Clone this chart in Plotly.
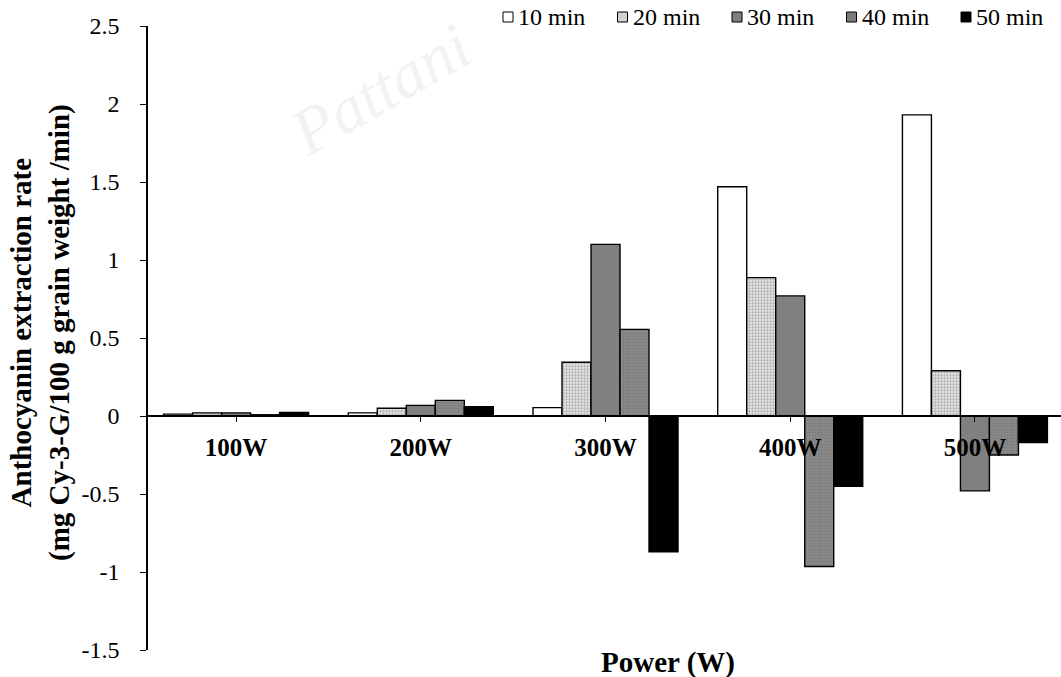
import plotly.graph_objects as go

# Microwave power levels and extraction times
powers = ["100W", "200W", "300W", "400W", "500W"]
series_names = ["10 min", "20 min", "30 min", "40 min", "50 min"]

# Anthocyanin extraction rate (mg Cy-3-G/100 g grain weight/min)
rate_10 = [0.012, 0.02, 0.054, 1.47, 1.93]
rate_20 = [0.02, 0.05, 0.345, 0.887, 0.29]
rate_30 = [0.02, 0.068, 1.10, 0.77, -0.48]
rate_40 = [0.008, 0.10, 0.555, -0.965, -0.25]
rate_50 = [0.022, 0.06, -0.87, -0.45, -0.17]

y_tickvals = [2.5, 2, 1.5, 1, 0.5, 0, -0.5, -1, -1.5]
y_ticktext = ["2.5", "2", "1.5", "1", "0.5", "0", "-0.5", "-1", "-1.5"]

FONT = "Liberation Serif, Times New Roman, serif"

L, R, T, B = 148, 0, 26, 27
W, H = 1061, 677
PW, PH = W - L - R, H - T - B

styles = [
    dict(color="white"),
    dict(color="white", pattern=dict(shape=".", fgcolor="#7a7a7a", bgcolor="#e6e6e6",
                                     size=3, solidity=0.45, fillmode="overlay")),
    dict(color="#808080"),
    dict(color="#808080", pattern=dict(shape=".", fgcolor="#6a6a6a", bgcolor="#8a8a8a",
                                       size=3, solidity=0.4, fillmode="overlay")),
    dict(color="black"),
]
# swatch colours for the hand-built legend row
swatch_fill = ["white", "#d2d2d2", "#808080", "#7a7a7a", "black"]

fig = go.Figure()
for name, vals, st in zip(series_names,
                          [rate_10, rate_20, rate_30, rate_40, rate_50], styles):
    fig.add_trace(go.Bar(
        x=powers, y=vals, name=name, showlegend=False,
        marker=dict(line=dict(color="black", width=1.4), **st),
    ))


def px_x(p):
    return (p - L) / PW


def px_y(p):
    return (H - B - p) / PH


# legend row across the top
shapes = []
annotations = []
legend_left = 503
legend_step = 114.5
legend_cy = 17
for i, (name, fill) in enumerate(zip(series_names, swatch_fill)):
    x0 = legend_left + i * legend_step
    shapes.append(dict(type="rect", xref="paper", yref="paper",
                       x0=px_x(x0), x1=px_x(x0 + 10),
                       y0=px_y(legend_cy + 5), y1=px_y(legend_cy - 5),
                       fillcolor=fill, line=dict(color="black", width=1)))
    annotations.append(dict(text=name, xref="paper", yref="paper",
                            x=px_x(x0 + 13), y=px_y(legend_cy),
                            xanchor="left", yanchor="middle", showarrow=False,
                            font=dict(family=FONT, size=24, color="black")))

annotations += [
    dict(text="<b>Anthocyanin extraction rate<br>(mg Cy-3-G/100 g grain weight /min)</b>",
         xref="paper", yref="paper", x=px_x(40), y=px_y(333),
         xanchor="center", yanchor="middle", showarrow=False, textangle=-90,
         font=dict(family=FONT, size=29, color="black")),
    dict(text="<b>Power (W)</b>", xref="paper", yref="paper", x=px_x(668), y=px_y(662),
         xanchor="center", yanchor="middle", showarrow=False,
         font=dict(family=FONT, size=29, color="black")),
    dict(text="<i>Pattani</i>", xref="paper", yref="paper", x=px_x(380), y=px_y(90),
         xanchor="center", yanchor="middle", showarrow=False, textangle=-30,
         font=dict(family=FONT, size=66, color="rgba(0,0,0,0.05)")),
]

fig.update_layout(
    width=W, height=H,
    margin=dict(l=L, r=R, t=T, b=B, autoexpand=False),
    plot_bgcolor="white", paper_bgcolor="white",
    barmode="group", bargap=0.215, bargroupgap=0,
    font=dict(family=FONT, size=24, color="black"),
    showlegend=False,
    xaxis=dict(
        range=[-0.477, 4.466], anchor="free", position=0.375,
        showline=True, linecolor="black", linewidth=1.5,
        ticks="outside", ticklen=5, tickcolor="black", tickwidth=1,
        tickfont=dict(family=FONT, size=25, color="black", weight="bold"),
        ticklabelstandoff=4,
        showgrid=False, zeroline=False,
    ),
    yaxis=dict(
        range=[-1.5, 2.5], tickvals=y_tickvals, ticktext=y_ticktext,
        showline=True, linecolor="black", linewidth=1.5,
        ticks="outside", ticklen=6, tickcolor="black", tickwidth=1,
        tickfont=dict(family=FONT, size=24, color="black"),
        ticklabelstandoff=16,
        showgrid=False, zeroline=False,
    ),
    shapes=shapes,
    annotations=annotations,
)

fig.write_html("out.html")
